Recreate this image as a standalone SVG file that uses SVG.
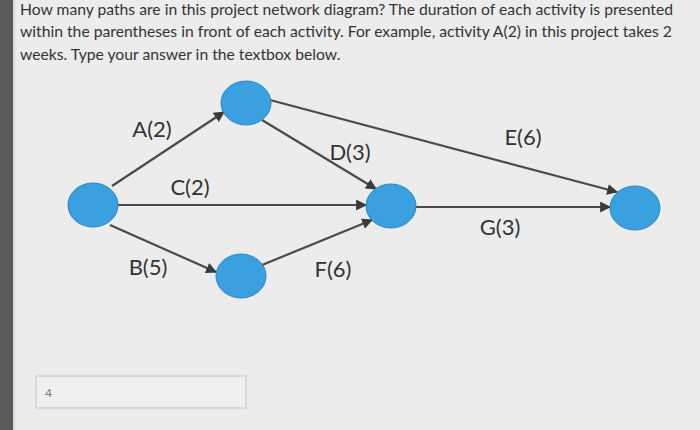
<svg xmlns="http://www.w3.org/2000/svg" width="700" height="430" viewBox="0 0 700 430">
<style>
.q{font-family:Lato,"Liberation Sans",sans-serif;font-size:15.7px;fill:#333}
.l{font-family:Lato,"Liberation Sans",sans-serif;font-size:22px;fill:#333;text-anchor:middle}
.e{stroke:#4a4a4a;stroke-width:2.2;fill:none;marker-end:url(#a)}
.n{fill:#3aa0df;stroke:#2a85c0;stroke-width:1}
</style>
<defs><marker id="a" viewBox="0 0 10 10" refX="9" refY="5" markerWidth="5" markerHeight="5" orient="auto"><path d="M0,0L10,5L0,10z" fill="#3a3a3a"/></marker></defs>
<rect width="700" height="430" fill="#ececec"/>
<rect width="13" height="430" fill="#5a5a5a"/>
<line x1="14" y1="0" x2="14" y2="430" stroke="#c8c8c8"/>
<text class="q" x="20" y="15">How many paths are in this project network diagram? The duration of each activity is presented</text>
<text class="q" x="20" y="37">within the parentheses in front of each activity. For example, activity A(2) in this project takes 2</text>
<text class="q" x="20" y="60">weeks. Type your answer in the textbox below.</text>
<g id="edges">
<line class="e" x1="112" y1="186" x2="224" y2="112"/>
<line class="e" x1="270" y1="100" x2="617" y2="192"/>
<line class="e" x1="262" y1="120" x2="376" y2="189"/>
<line class="e" x1="118" y1="205" x2="366" y2="205"/>
<line class="e" x1="415" y1="207" x2="610" y2="207"/>
<line class="e" x1="110" y1="225" x2="216" y2="272"/>
<line class="e" x1="262" y1="265" x2="372" y2="220"/>
<text class="l" x="152" y="137">A(2)</text>
<text class="l" x="190" y="195">C(2)</text>
<text class="l" x="350" y="160">D(3)</text>
<text class="l" x="523" y="145">E(6)</text>
<text class="l" x="500" y="235">G(3)</text>
<text class="l" x="148" y="275">B(5)</text>
<text class="l" x="333" y="277">F(6)</text>
</g>
<g id="n1"><ellipse class="n" cx="93" cy="205" rx="25" ry="22"/></g>
<g id="n2"><ellipse class="n" cx="246" cy="103" rx="25" ry="22"/></g>
<g id="n3"><ellipse class="n" cx="391" cy="206" rx="25" ry="22"/></g>
<g id="n4"><ellipse class="n" cx="241" cy="276" rx="25" ry="22"/></g>
<g id="n5"><ellipse class="n" cx="635" cy="208" rx="25" ry="22"/></g>
<g id="answer"><rect x="36" y="376" width="210" height="32" fill="#efefef" stroke="#c4c4c4"/><text x="45" y="397" font-family="Lato,'Liberation Sans',sans-serif" font-size="12" fill="#777">4</text></g>
</svg>
